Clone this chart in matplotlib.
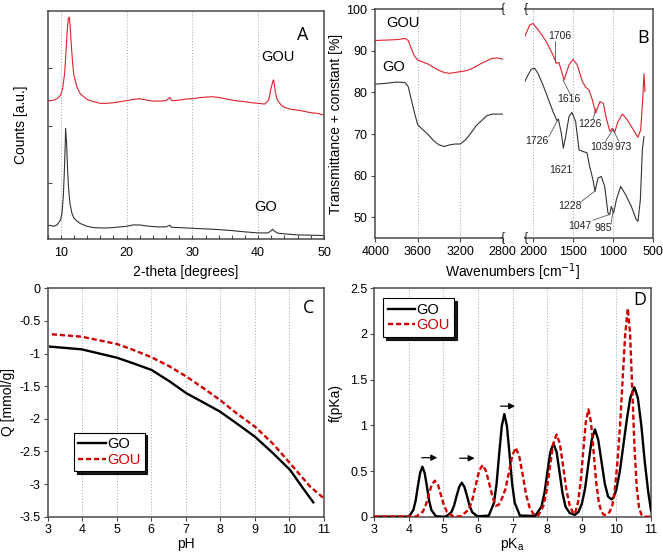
import matplotlib
matplotlib.use("Agg")
import matplotlib.pyplot as plt

plt.rcParams['font.family'] = ['Liberation Sans', 'DejaVu Sans']
plt.rcParams['axes.unicode_minus'] = False

# ---------------- Panel A: XRD ----------------
xrd_theta_gou = [8.1, 9.0, 9.5, 10.0, 10.3, 10.6, 10.8, 11.0, 11.15, 11.3, 11.45, 11.6, 11.8, 12.0, 12.5,
                 13, 14, 15, 16, 17, 18, 19, 20, 21, 22, 23, 24, 25, 26, 26.6, 26.8, 27, 28, 29, 30, 31,
                 32, 33, 34, 35, 36, 37, 38, 39, 40, 41, 41.6, 41.9, 42.2, 42.35, 42.6, 42.9, 43.5, 44,
                 45, 46, 47, 48, 49, 50]
xrd_counts_gou = [2430, 2447, 2476, 2534, 2650, 2910, 3258, 3663, 3866, 3895, 3721, 3431, 3113, 2881, 2667,
                  2552, 2459, 2419, 2390, 2390, 2401, 2419, 2436, 2459, 2470, 2447, 2430, 2430, 2436, 2494,
                  2447, 2436, 2447, 2465, 2470, 2487, 2499, 2505, 2494, 2470, 2447, 2430, 2419, 2401, 2390,
                  2378, 2447, 2621, 2766, 2800, 2592, 2447, 2360, 2320, 2285, 2273, 2250, 2227, 2215, 2187]
xrd_theta_go = [8.1, 9.0, 9.5, 10.0, 10.2, 10.4, 10.55, 10.7, 10.75, 10.9, 11.05, 11.2, 11.4, 11.7, 12,
                12.5, 13, 14, 15, 16, 17, 18, 19, 20, 21, 22, 23, 24, 25, 26, 26.6, 26.8, 28, 30, 32, 34,
                36, 38, 40, 41.5, 42, 42.2, 42.5, 43, 44, 46, 48, 50]
xrd_counts_go = [265, 247, 276, 363, 479, 768, 1174, 1695, 1955, 1695, 1232, 913, 653, 479, 392,
                 334, 294, 247, 224, 218, 218, 224, 236, 247, 270, 270, 253, 241, 236, 236, 265, 230,
                 224, 212, 201, 189, 172, 149, 131, 131, 172, 195, 160, 126, 114, 97, 91, 85]

# ---------------- Panel B: FTIR ----------------
ir_wn_left = [4000, 3900, 3800, 3720, 3690, 3660, 3630, 3600, 3550, 3500, 3450, 3400, 3350, 3300, 3250,
              3200, 3150, 3100, 3050, 3000, 2950, 2900, 2850, 2800]
ir_gou_left = [92.5, 92.6, 92.7, 93.0, 92.5, 90.5, 88.7, 87.8, 87.3, 86.8, 86.0, 85.3, 84.8, 84.6, 84.8,
               85.0, 85.2, 85.6, 86.3, 87.0, 87.6, 88.2, 88.3, 88.0]
ir_go_left = [82.0, 82.2, 82.5, 82.4, 81.4, 78.2, 75.0, 72.2, 71.0, 69.8, 68.4, 67.4, 67.0, 67.4, 67.6,
              67.6, 68.6, 70.2, 72.0, 73.2, 74.4, 74.8, 74.8, 74.8]
ir_wn_gou_right = [2104, 2042, 2000, 1967, 1917, 1833, 1750, 1708, 1675, 1612, 1550, 1500, 1446, 1383,
                   1342, 1300, 1258, 1217, 1163, 1121, 1079, 1038, 1008, 979, 938, 883, 821, 758, 688,
                   654, 629, 613, 600]
ir_gou_right = [93.4, 96.2, 96.6, 95.8, 94.6, 92.2, 89.0, 87.0, 87.2, 83.0, 86.6, 88.0, 86.6, 82.6,
                81.3, 80.6, 78.2, 75.0, 77.8, 77.4, 73.4, 70.6, 71.4, 70.4, 73.0, 74.8, 73.4, 71.4, 69.2,
                71.0, 78.2, 84.5, 80.2]
ir_wn_go_right = [2104, 2062, 2021, 1979, 1938, 1875, 1812, 1750, 1700, 1683, 1646, 1621, 1592, 1550,
                  1513, 1467, 1425, 1375, 1325, 1292, 1250, 1225, 1188, 1146, 1104, 1063, 1042, 1021,
                  992, 958, 904, 842, 771, 708, 688, 658, 633, 613]
ir_go_right = [82.6, 84.2, 85.6, 85.8, 84.6, 81.8, 78.6, 75.4, 73.2, 73.6, 70.2, 66.6, 69.4, 74.2,
               75.2, 73.0, 66.2, 65.8, 65.5, 62.2, 59.0, 56.2, 59.4, 59.8, 57.4, 51.0, 50.6, 52.6,
               51.0, 54.2, 57.4, 55.4, 52.6, 49.4, 49.0, 54.2, 66.2, 69.4]
ir_peak_labels = ['1706', '1616', '1226', '1726', '1621', '1039', '973', '1228', '1047', '985']

# ---------------- Panel C: titration ----------------
ph_go = [3.07, 3.98, 5.0, 5.48, 6.01, 6.54, 7.02, 7.51, 7.99, 8.47, 9.0, 9.53, 10.02, 10.36, 10.69]
q_go = [-0.894, -0.935, -1.063, -1.15, -1.252, -1.43, -1.61, -1.75, -1.89, -2.07, -2.274, -2.53, -2.785,
        -3.04, -3.28]
ph_gou = [3.12, 3.98, 5.0, 5.48, 6.01, 6.54, 7.02, 7.51, 7.99, 8.47, 9.0, 9.53, 10.02, 10.6, 11.0]
q_gou = [-0.705, -0.741, -0.853, -0.945, -1.058, -1.2, -1.354, -1.53, -1.712, -1.916, -2.12, -2.386,
         -2.683, -3.04, -3.22]

# ---------------- Panel D: pKa distribution ----------------
pka_go = [3.0, 4.0, 4.13, 4.195, 4.26, 4.325, 4.39, 4.455, 4.52, 4.585, 4.65, 4.78,
          5.0, 5.08, 5.23, 5.305, 5.38, 5.455, 5.53, 5.605, 5.68, 5.755, 5.83, 5.98,
          6.31, 6.46, 6.535, 6.61, 6.685, 6.76, 6.835, 6.91, 6.985, 7.06, 7.21,
          7.65, 7.83, 7.92, 8.005, 8.09, 8.18, 8.27, 8.355, 8.44, 8.53, 8.65, 8.8,
          8.9, 9.0, 9.095, 9.19, 9.285, 9.38, 9.475, 9.57, 9.665, 9.76, 9.86, 9.92,
          10.0, 10.1, 10.2, 10.3, 10.4, 10.52, 10.62, 10.72, 10.82, 10.92, 11.0]
f_go = [0.0, 0.0, 0.074, 0.175, 0.334, 0.48, 0.547, 0.48, 0.334, 0.175, 0.074, 0.005,
        0.0, 0.004, 0.05, 0.12, 0.227, 0.327, 0.372, 0.327, 0.227, 0.12, 0.05, 0.004,
        0.012, 0.152, 0.36, 0.685, 0.99, 1.124, 0.99, 0.685, 0.36, 0.152, 0.012,
        0.009, 0.108, 0.26, 0.49, 0.71, 0.80, 0.71, 0.49, 0.26, 0.108, 0.04, 0.02,
        0.05, 0.14, 0.31, 0.58, 0.84, 0.956, 0.84, 0.6, 0.36, 0.22, 0.19, 0.21,
        0.30, 0.5, 0.78, 1.06, 1.3, 1.416, 1.3, 1.0, 0.6, 0.27, 0.07]
pka_gou = [3.0, 4.22, 4.4, 4.49, 4.575, 4.66, 4.75, 4.84, 4.925, 5.01, 5.1, 5.28,
           5.5, 5.73, 5.83, 5.93, 6.03, 6.13, 6.23, 6.33, 6.43, 6.51, 6.6, 6.69, 6.79, 6.89, 6.99,
           7.09, 7.19, 7.29, 7.39, 7.49, 7.6, 7.69,
           7.75, 7.89, 7.985, 8.08, 8.175, 8.27, 8.365, 8.46, 8.555, 8.65, 8.75, 8.8,
           8.89, 8.965, 9.04, 9.115, 9.19, 9.265, 9.34, 9.415, 9.49, 9.565, 9.64, 9.70,
           9.8, 9.88, 9.955, 10.03, 10.105, 10.18, 10.255, 10.33, 10.395, 10.46, 10.525, 10.59,
           10.655, 10.72, 10.8, 11.0]
f_gou = [0.0, 0.004, 0.053, 0.13, 0.24, 0.35, 0.394, 0.35, 0.24, 0.13, 0.053, 0.004,
         0.004, 0.077, 0.18, 0.34, 0.5, 0.566, 0.5, 0.35, 0.2, 0.12, 0.13, 0.2, 0.3, 0.48, 0.67,
         0.755, 0.66, 0.46, 0.24, 0.10, 0.03, 0.01,
         0.02, 0.12, 0.29, 0.55, 0.8, 0.90, 0.8, 0.55, 0.29, 0.12, 0.04, 0.03,
         0.16, 0.38, 0.713, 1.035, 1.175, 1.035, 0.713, 0.38, 0.16, 0.055, 0.02, 0.02,
         0.05, 0.12, 0.3, 0.6, 1.0, 1.5, 2.0, 2.28, 2.0, 1.38, 0.74, 0.31,
         0.1, 0.025, 0.0, 0.0]

RED = '#e0202e'
DRED = '#cc0000'
GREY = '#333333'
SPINE = '#4a4a4a'
GRID = '#a9b1c6'
W, H = 663, 558


def pos(l, r, t, b):
    return [l / W, 1 - b / H, (r - l) / W, (b - t) / H]


def style(ax, direction='out', pad=2):
    for s in ax.spines.values():
        s.set_color(SPINE)
        s.set_linewidth(1.1)
    ax.tick_params(direction=direction, length=3, width=0.8, color=SPINE,
                   labelsize=9, pad=pad)


def legend(ax, anchor):
    leg = ax.legend(loc='upper left', bbox_to_anchor=anchor, bbox_transform=fig.transFigure,
                    borderaxespad=0, fancybox=False,
                    shadow={'color': 'black', 'alpha': 0.9},
                    edgecolor='black', framealpha=1, fontsize=10.5, handlelength=1.9,
                    handletextpad=0.05, borderpad=0.3, labelspacing=0.12)
    leg.get_frame().set_linewidth(0.8)
    leg.get_texts()[1].set_color(DRED)
    return leg


fig = plt.figure(figsize=(6.63, 5.58), dpi=100)

# ---------- A ----------
axA = fig.add_axes(pos(47.5, 324, 11, 239))
axA.plot(xrd_theta_gou, xrd_counts_gou, color=RED, lw=0.8)
axA.plot(xrd_theta_go, xrd_counts_go, color=GREY, lw=0.8)
axA.set_xlim(8, 50)
axA.set_ylim(25, 4000)
axA.set_xticks([10, 20, 30, 40, 50])
axA.set_xticks(range(8, 51, 2), minor=True)
axA.set_yticks([1000, 2000, 3000])
axA.set_yticklabels([])
style(axA, 'in', pad=6)
axA.tick_params(which='minor', direction='in', length=3, width=0.8, color=SPINE)
for g in [10, 20, 30, 40]:
    axA.axvline(g, color=GRID, lw=0.8, ls=':', zorder=0)
axA.set_xlabel('2-theta [degrees]', fontsize=10, labelpad=4)
axA.set_ylabel('Counts [a.u.]', fontsize=10, labelpad=8)
axA.text(43.0, 3194, 'GOU', fontsize=10.5, ha='center', va='center')
axA.text(41.2, 589, 'GO', fontsize=10.5, ha='center', va='center')
axA.text(46.8, 3576, 'A', fontsize=13, ha='center', va='center', family=['Open Sans', 'DejaVu Sans'])

# ---------- B left ----------
axB1 = fig.add_axes(pos(375.3, 502.7, 9.3, 238))
axB1.plot(ir_wn_left, ir_gou_left, color=RED, lw=0.8)
axB1.plot(ir_wn_left, ir_go_left, color=GREY, lw=0.8)
axB1.set_xlim(4000, 2800)
axB1.set_ylim(45, 100)
axB1.set_xticks([4000, 3600, 3200, 2800])
axB1.set_yticks([50, 60, 70, 80, 90, 100])
style(axB1, 'out', pad=3)
axB1.spines['right'].set_visible(False)
for g in [3600, 3200, 2800]:
    axB1.axvline(g, color=GRID, lw=0.8, ls=':', zorder=0)
axB1.set_ylabel('Transmittance + constant [%]', fontsize=10, labelpad=2)
axB1.text(3738, 96.7, 'GOU', fontsize=10.5, ha='center', va='center')
axB1.text(3823, 86.1, 'GO', fontsize=10.5, ha='center', va='center')

# ---------- B right ----------
axB2 = fig.add_axes(pos(525, 653, 9.3, 238))
axB2.plot(ir_wn_gou_right, ir_gou_right, color=RED, lw=0.8)
axB2.plot(ir_wn_go_right, ir_go_right, color=GREY, lw=0.8)
axB2.set_xlim(2100, 500)
axB2.set_ylim(45, 100)
axB2.set_xticks([2000, 1500, 1000, 500])
axB2.set_yticks([])
style(axB2, 'out', pad=3)
axB2.spines['left'].set_visible(False)
for g in [2000, 1500, 1000]:
    axB2.axvline(g, color=GRID, lw=0.8, ls=':', zorder=0)
axB2.text(620, 93.0, 'B', fontsize=13, ha='center', va='center', family=['Open Sans', 'DejaVu Sans'])
fig.text(513 / W, 1 - 272 / H, 'Wavenumbers [cm$^{-1}$]', fontsize=10, ha='center', va='center')

ann = [  # label, text xy, line start, line end
    (ir_peak_labels[0], (1666, 93.6), (1729, 92.4), (1729, 87.4)),
    (ir_peak_labels[1], (1550, 78.4), (1535, 79.6), (1625, 83.0)),
    (ir_peak_labels[2], (1283, 72.3), (1250, 73.6), (1212, 76.2)),
    (ir_peak_labels[3], (1950, 68.4), (1800, 69.4), (1690, 73.4)),
    (ir_peak_labels[4], (1654, 61.3), None, None),
    (ir_peak_labels[5], (1145, 66.8), (1092, 68.3), (1003, 71.0)),
    (ir_peak_labels[6], (875, 66.8), (929, 68.3), (997, 71.0)),
    (ir_peak_labels[7], (1533, 52.7), (1395, 53.8), (1232, 56.2)),
    (ir_peak_labels[8], (1416, 47.9), (1250, 49.3), (1050, 50.6)),
    (ir_peak_labels[9], (1125, 47.4), (1025, 48.3), (1000, 51.3)),
]
for lab, txy, p0, p1 in ann:
    axB2.text(txy[0], txy[1], lab, fontsize=7.5, color='#222222', ha='center', va='center', zorder=5)
    if p0 is not None:
        axB2.plot([p0[0], p1[0]], [p0[1], p1[1]], color='#555555', lw=0.6, zorder=4)

# axis break marks
for x in [502.7, 525.5]:
    for y in [9.3, 238]:
        fig.text(x / W, 1 - y / H, '{', fontsize=9, ha='center', va='center', color='#222222')

# ---------- C ----------
axC = fig.add_axes(pos(47.7, 324, 288.3, 516.7))
axC.plot(ph_go, q_go, color='black', lw=1.7, label='GO')
axC.plot(ph_gou, q_gou, color=DRED, lw=1.7, ls=(0, (2.2, 1.2)), label='GOU')
axC.set_xlim(3, 11)
axC.set_ylim(-3.5, 0)
axC.set_xticks(range(3, 12))
axC.set_yticks([0, -0.5, -1, -1.5, -2, -2.5, -3, -3.5])
axC.set_yticklabels(['0', '-0.5', '-1', '-1.5', '-2', '-2.5', '-3', '-3.5'])
style(axC, 'out')
for g in range(4, 11):
    axC.axvline(g, color=GRID, lw=0.8, ls=':', zorder=0)
axC.set_xlabel('pH', fontsize=10, labelpad=1)
axC.set_ylabel('Q [mmol/g]', fontsize=10, labelpad=3)
axC.text(10.55, -0.3, 'C', fontsize=13, ha='center', va='center', family=['Open Sans', 'DejaVu Sans'])
legend(axC, (74 / W, 1 - 432.7 / H))

# ---------- D ----------
axD = fig.add_axes(pos(374.3, 651, 288.3, 516.7))
axD.plot(pka_go, f_go, color='black', lw=1.7, label='GO', zorder=3)
axD.plot(pka_gou, f_gou, color=DRED, lw=1.7, ls=(0, (2.2, 1.2)), label='GOU', zorder=4)
axD.set_xlim(3, 11)
axD.set_ylim(0, 2.5)
axD.set_xticks(range(3, 12))
axD.set_yticks([0, 0.5, 1, 1.5, 2, 2.5])
axD.set_yticklabels(['0', '0.5', '1', '1.5', '2', '2.5'])
style(axD, 'out')
for g in range(4, 11):
    axD.axvline(g, color=GRID, lw=0.8, ls=':', zorder=0)
axD.set_xlabel('pK$_\\mathregular{a}$', fontsize=10, labelpad=0)
axD.set_ylabel('f(pKa)', fontsize=10, labelpad=5)
axD.text(10.68, 2.37, 'D', fontsize=13, ha='center', va='center', family=['Open Sans', 'DejaVu Sans'])
for x0, x1, y in [(4.37, 4.82, 0.646), (5.47, 5.90, 0.64), (6.65, 7.07, 1.21)]:
    axD.annotate('', xy=(x1, y), xytext=(x0, y),
                 arrowprops=dict(arrowstyle='-|>', color='black', lw=0.9, mutation_scale=9,
                                 shrinkA=0, shrinkB=0))
legend(axD, (383.3 / W, 1 - 298.3 / H))

fig.savefig('out.png', dpi=100)
